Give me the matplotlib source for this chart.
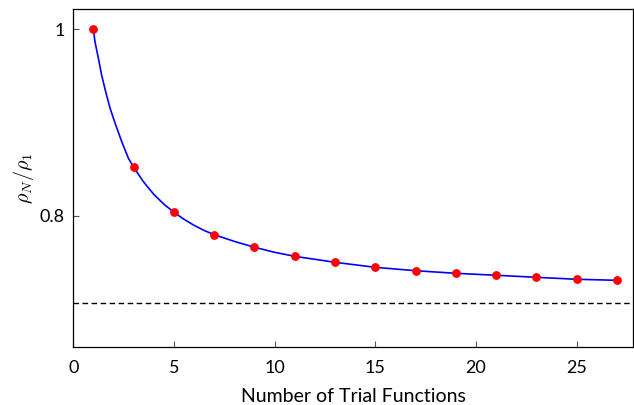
import matplotlib
matplotlib.use('Agg')
import matplotlib.pyplot as plt

# computed ratios at odd numbers of trial functions
n_trial = [1, 3, 5, 7, 9, 11, 13, 15, 17, 19, 21, 23, 25, 27]
ratio = [1.0, 0.8522, 0.8040, 0.7800, 0.7665, 0.7568, 0.7504,
         0.7450, 0.7414, 0.7386, 0.7365, 0.7343, 0.7322, 0.7311]

# smooth fit curve
curve_n = [1.0, 1.08, 1.25, 1.41, 1.61, 1.83, 2.11, 2.41, 2.74, 3.0,
           3.5, 4.0, 4.5, 5.0, 5.5, 6.0, 6.5, 7.0, 8.0, 9.0, 10.0, 11.0,
           13.0, 15.0, 17.0, 19.0, 21.0, 23.0, 25.0, 27.0]
curve_ratio = [1.0, 0.9867, 0.9689, 0.9510, 0.9332, 0.9154, 0.8975, 0.8796,
               0.8618, 0.8522, 0.8363, 0.8232, 0.8127, 0.8040, 0.7965,
               0.7900, 0.7845, 0.7800, 0.7728, 0.7665, 0.7611, 0.7568,
               0.7504, 0.7450, 0.7414, 0.7386, 0.7365, 0.7343, 0.7322, 0.7311]

limit = 0.7071

plt.rcParams['font.family'] = ['Lato', 'DejaVu Sans']
plt.rcParams['mathtext.fontset'] = 'cm'

fig = plt.figure(figsize=(6.34, 4.05), dpi=100)
ax = fig.add_axes([0.1155, 0.144, 0.883, 0.833])

ax.plot(curve_n, curve_ratio, color='#0000ff', lw=1.2, zorder=2)
ax.plot(n_trial, ratio, 'o', color='#ff0000', ms=5.3, zorder=3)
ax.axhline(limit, color='black', lw=1.0, ls=(0, (4, 2.5)), zorder=1)

ax.set_xlim(0, 27.8)
ax.set_ylim(0.66, 1.0214)
ax.set_xticks([0, 5, 10, 15, 20, 25])
ax.set_yticks([0.8, 1.0])
ax.set_yticklabels(['0.8', '1'])
ax.tick_params(direction='in', length=4, width=0.8, color='#555555',
               labelsize=13)
ax.tick_params(axis='x', pad=9.5)
ax.tick_params(axis='y', pad=6)

ax.set_xlabel('Number of Trial Functions', fontsize=14, labelpad=8.5)
ax.set_ylabel(r'$\rho_N/\rho_1$', fontsize=14.5, labelpad=3)

for s in ax.spines.values():
    s.set_linewidth(0.9)

fig.savefig('out.png', dpi=100)
